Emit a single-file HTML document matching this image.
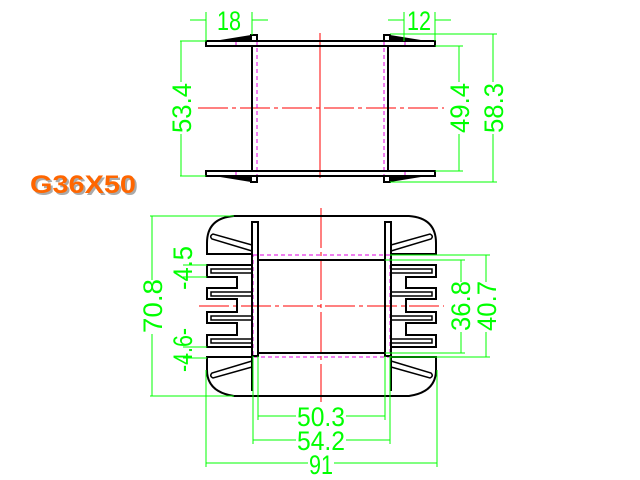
<!DOCTYPE html>
<html><head><style>
html,body{margin:0;padding:0;background:#fff;}
svg{display:block;}
.d{font-family:"Liberation Sans Narrow","Liberation Sans",sans-serif;fill:#00ff00;font-size:27px;}
</style></head><body>
<svg width="640" height="480" viewBox="0 0 640 480" xmlns="http://www.w3.org/2000/svg">
<!-- ===== TOP VIEW ===== -->
<g stroke="#ff0000" stroke-width="1" fill="none">
<line x1="320" y1="33" x2="320" y2="178"/>
<line x1="198" y1="108" x2="444" y2="108" stroke-dasharray="30,4,4,4"/>
</g>
<g stroke="#e000e0" stroke-width="1" stroke-dasharray="4,3" fill="none">
<line x1="257" y1="41" x2="257" y2="182"/>
<line x1="384" y1="41" x2="384" y2="182"/>
</g>
<g stroke="#e000e0" stroke-width="1"><line x1="236" y1="41" x2="236" y2="46"/><line x1="405" y1="41" x2="405" y2="46"/><line x1="236" y1="171" x2="236" y2="176"/><line x1="405" y1="171" x2="405" y2="176"/></g>
<g stroke="#000" stroke-width="2" fill="none">
<rect x="206" y="41" width="229" height="5"/>
<rect x="206" y="171" width="229" height="5"/>
<line x1="252" y1="46" x2="252" y2="171"/>
<line x1="388" y1="46" x2="388" y2="171"/>
<rect x="251" y="35" width="6" height="6"/>
<rect x="384" y="35" width="6" height="6"/>
<rect x="251" y="176" width="6" height="6"/>
<rect x="384" y="176" width="6" height="6"/>
</g>
<g fill="#000"><polygon points="214,41 251,35 251,41"/><polygon points="390,35 427,41 390,41"/><polygon points="214,176 251,182 251,176"/><polygon points="390,182 427,176 390,176"/></g>
<!-- top dims -->
<g stroke="#00ff00" stroke-width="1" fill="none">
<line x1="206" y1="12" x2="206" y2="41"/><line x1="252" y1="12" x2="252" y2="35"/>
<line x1="190" y1="20" x2="206" y2="20"/><line x1="252" y1="20" x2="268" y2="20"/>
<line x1="404" y1="12" x2="404" y2="41"/><line x1="435" y1="12" x2="435" y2="41"/>
<line x1="388" y1="20" x2="404" y2="20"/><line x1="435" y1="20" x2="451" y2="20"/>
<line x1="180" y1="41" x2="206" y2="41"/><line x1="180" y1="176" x2="206" y2="176"/>
<line x1="181" y1="41" x2="181" y2="82"/><line x1="181" y1="134" x2="181" y2="176"/>
<line x1="435" y1="46" x2="463" y2="46"/><line x1="435" y1="171" x2="463" y2="171"/>
<line x1="459" y1="46" x2="459" y2="82"/><line x1="459" y1="134" x2="459" y2="171"/>
<line x1="390" y1="34" x2="497" y2="34"/><line x1="390" y1="182" x2="497" y2="182"/>
<line x1="493" y1="34" x2="493" y2="82"/><line x1="493" y1="134" x2="493" y2="182"/>
</g>
<text class="d" x="229" y="30" text-anchor="middle" textLength="24" lengthAdjust="spacingAndGlyphs">18</text>
<text class="d" x="419" y="30" text-anchor="middle" textLength="24" lengthAdjust="spacingAndGlyphs">12</text>
<text class="d" transform="translate(191,108) rotate(-90)" text-anchor="middle" textLength="50" lengthAdjust="spacingAndGlyphs">53.4</text>
<text class="d" transform="translate(469,108) rotate(-90)" text-anchor="middle" textLength="50" lengthAdjust="spacingAndGlyphs">49.4</text>
<text class="d" transform="translate(503,108) rotate(-90)" text-anchor="middle" textLength="50" lengthAdjust="spacingAndGlyphs">58.3</text>
<!-- label -->
<text x="32" y="195" font-family="Liberation Sans,sans-serif" font-weight="bold" font-size="25" fill="#aaa" textLength="106" lengthAdjust="spacingAndGlyphs">G36X50</text>
<text x="30" y="193" font-family="Liberation Sans,sans-serif" font-weight="bold" font-size="25" fill="#ff6600" textLength="106" lengthAdjust="spacingAndGlyphs">G36X50</text>
<!-- ===== BOTTOM VIEW ===== -->
<g stroke="#ff0000" stroke-width="1" fill="none">
<line x1="321" y1="208" x2="321" y2="402" stroke-dasharray="40,4,4,4"/>
<line x1="199" y1="306" x2="444" y2="306" stroke-dasharray="30,4,4,4"/>
</g>
<rect x="253" y="255" width="137" height="102" fill="none" stroke="#e000e0" stroke-width="1" stroke-dasharray="4,3"/>
<g id="half" stroke="#000" stroke-width="2" fill="none">
<path d="M321.5,216 H234 Q207,218 207,243 V254 H252"/>
<path d="M321.5,396 H234 Q207,392 207,370 V357 H252"/>
<path d="M252,265 H207 V277 H237 V288 H207 V299 H237 V312 H207 V323 H237 V335 H207 V347 H252"/>
<path d="M252,269 H211 V273 H252 M252,292 H211 V296 H252 M252,316 H211 V320 H252 M252,339 H211 V343 H252" stroke-width="1.5"/>
<rect x="252" y="222" width="6" height="134"/>
<line x1="252" y1="356" x2="252" y2="391"/>
<path d="M252,245 L213,234 Q209,236 212,239 L252,251" stroke-width="1.5"/>
<path d="M252,367 L213,378 Q209,376 212,373 L252,361" stroke-width="1.5"/>
<line x1="258" y1="260" x2="321.5" y2="260"/>
<line x1="258" y1="353" x2="321.5" y2="353"/>
</g>
<use href="#half" transform="translate(643,0) scale(-1,1)"/>
<!-- bottom dims -->
<g stroke="#00ff00" stroke-width="1" fill="none">
<line x1="150" y1="216" x2="234" y2="216"/><line x1="150" y1="396" x2="234" y2="396"/>
<line x1="152" y1="216" x2="152" y2="280"/><line x1="152" y1="334" x2="152" y2="396"/>
<line x1="183" y1="265" x2="207" y2="265"/><line x1="183" y1="277" x2="207" y2="277"/>
<line x1="183" y1="347" x2="207" y2="347"/><line x1="183" y1="358" x2="207" y2="358"/>
<line x1="385" y1="260" x2="465" y2="260"/><line x1="385" y1="353" x2="465" y2="353"/>
<line x1="461" y1="260" x2="461" y2="282"/><line x1="461" y1="332" x2="461" y2="353"/>
<line x1="390" y1="255" x2="490" y2="255"/><line x1="390" y1="357" x2="490" y2="357"/>
<line x1="486" y1="255" x2="486" y2="282"/><line x1="486" y1="332" x2="486" y2="357"/>
<line x1="258" y1="356" x2="258" y2="420"/><line x1="385" y1="356" x2="385" y2="420"/>
<line x1="253" y1="356" x2="253" y2="444"/><line x1="390" y1="356" x2="390" y2="444"/>
<line x1="206" y1="370" x2="206" y2="467"/><line x1="437" y1="370" x2="437" y2="467"/>
<line x1="258" y1="416" x2="296" y2="416"/><line x1="346" y1="416" x2="385" y2="416"/>
<line x1="253" y1="440" x2="296" y2="440"/><line x1="346" y1="440" x2="390" y2="440"/>
<line x1="206" y1="463" x2="308" y2="463"/><line x1="334" y1="463" x2="437" y2="463"/>
</g>
<text class="d" transform="translate(162,306) rotate(-90)" text-anchor="middle" textLength="54" lengthAdjust="spacingAndGlyphs">70.8</text>
<text class="d" transform="translate(192,268) rotate(-90)" text-anchor="middle" textLength="44" lengthAdjust="spacingAndGlyphs">-4.5</text>
<text class="d" transform="translate(192,350) rotate(-90)" text-anchor="middle" textLength="44" lengthAdjust="spacingAndGlyphs">-4.6-</text>
<text class="d" transform="translate(470,306) rotate(-90)" text-anchor="middle" textLength="50" lengthAdjust="spacingAndGlyphs">36.8</text>
<text class="d" transform="translate(496,306) rotate(-90)" text-anchor="middle" textLength="50" lengthAdjust="spacingAndGlyphs">40.7</text>
<text class="d" x="321" y="426" text-anchor="middle" textLength="48" lengthAdjust="spacingAndGlyphs">50.3</text>
<text class="d" x="321" y="450" text-anchor="middle" textLength="48" lengthAdjust="spacingAndGlyphs">54.2</text>
<text class="d" x="321" y="474" text-anchor="middle" textLength="24" lengthAdjust="spacingAndGlyphs">91</text>
</svg>
</body></html>
